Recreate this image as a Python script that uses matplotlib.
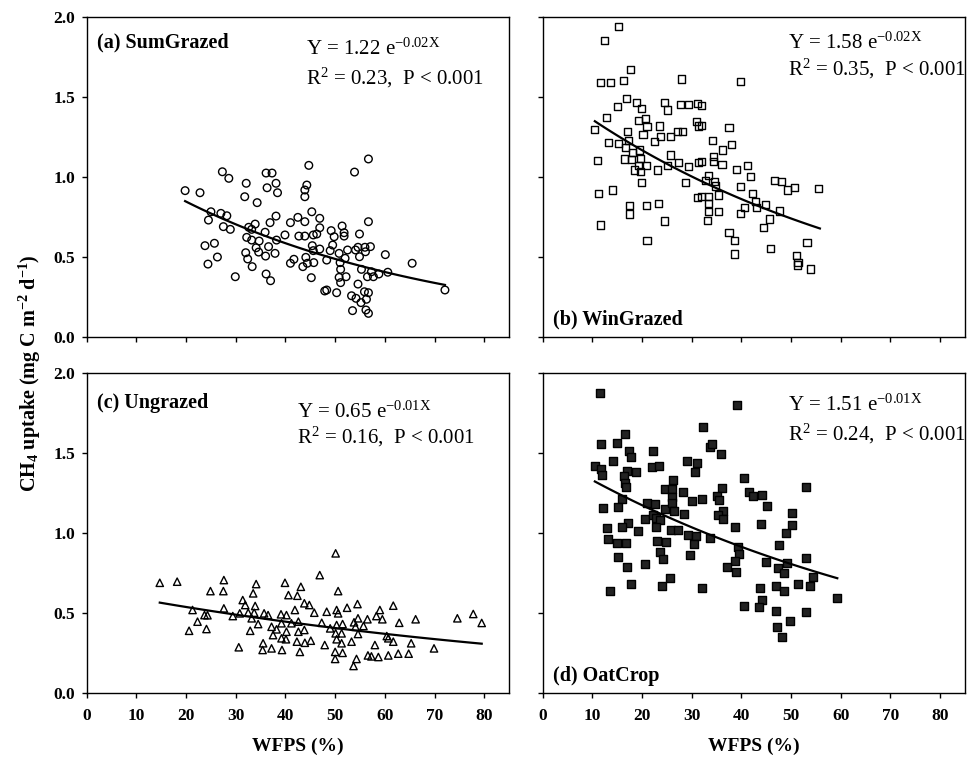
import numpy as np
import matplotlib
matplotlib.use("Agg")
import matplotlib.pyplot as plt

plt.rcParams['font.family'] = ['Liberation Serif', 'DejaVu Serif']
plt.rcParams['mathtext.fontset'] = 'custom'
plt.rcParams['mathtext.rm'] = 'Liberation Serif'
plt.rcParams['mathtext.it'] = 'Liberation Serif:italic'
plt.rcParams['mathtext.bf'] = 'Liberation Serif:bold'

# (a) SumGrazed - WFPS (%) vs CH4 uptake
sum_x = [19.8, 22.8, 27.3, 28.6, 32.1, 31.8, 34.3, 36.1, 37.3, 38.1, 36.3, 38.4, 44.7, 44.3, 43.9, 43.9,
         25.0, 24.5, 27.0, 28.2, 27.5, 28.9, 23.8, 25.7, 26.3, 24.4, 29.9, 32.6, 33.9, 33.2, 32.2, 33.2,
         34.7, 35.9, 36.9, 38.1, 32.0, 32.4, 33.3, 34.1, 34.6, 36.6, 36.0, 37.9, 38.2, 39.9, 36.1, 37.0,
         41.0, 42.5, 43.9, 45.3, 46.9, 42.7, 43.9, 45.6, 46.3, 46.9, 45.4, 45.6, 46.9, 41.0, 41.7, 43.5,
         44.1, 44.4, 45.7, 45.2, 47.9, 48.3,
         56.7, 53.9, 56.7, 49.2, 49.8, 51.4, 51.8, 51.8, 54.9, 49.5, 49.0, 50.8, 52.5, 54.1, 54.6, 56.0,
         57.1, 54.9, 56.1, 52.0, 48.3, 60.1, 65.5, 51.0, 51.1, 55.3, 57.3, 56.5, 57.7, 58.8, 60.6, 50.8,
         52.2, 51.1, 54.6, 50.3, 53.3, 54.2, 55.9, 56.7, 56.3, 55.2, 53.5, 56.2, 56.7, 72.1]
sum_y = [0.913, 0.900, 1.031, 0.990, 0.959, 0.875, 0.838, 1.023, 1.023, 0.959, 0.931, 0.900, 1.071, 0.948, 0.917, 0.875,
         0.781, 0.729, 0.771, 0.756, 0.688, 0.671, 0.569, 0.584, 0.498, 0.454, 0.375, 0.684, 0.704, 0.671, 0.621, 0.604,
         0.598, 0.653, 0.713, 0.754, 0.525, 0.486, 0.438, 0.556, 0.529, 0.563, 0.504, 0.521, 0.604, 0.636, 0.392, 0.350,
         0.713, 0.746, 0.719, 0.781, 0.740, 0.629, 0.629, 0.636, 0.642, 0.681, 0.569, 0.538, 0.548, 0.459, 0.484, 0.438,
         0.496, 0.459, 0.463, 0.369, 0.286, 0.292,
         1.111, 1.029, 0.719, 0.663, 0.625, 0.692, 0.650, 0.629, 0.642, 0.573, 0.538, 0.521, 0.542, 0.542, 0.559, 0.559,
         0.563, 0.500, 0.531, 0.490, 0.479, 0.513, 0.459, 0.463, 0.421, 0.421, 0.406, 0.375, 0.375, 0.392, 0.403, 0.371,
         0.375, 0.338, 0.329, 0.275, 0.256, 0.240, 0.281, 0.275, 0.234, 0.213, 0.163, 0.167, 0.146, 0.292]

# (b) WinGrazed
win_x = [15.2, 12.4, 17.7, 11.6, 13.7, 16.3, 28.0, 16.8, 15.1, 18.9, 19.9, 24.5, 25.2, 27.8, 29.3, 31.1,
         12.8, 10.5, 19.2, 20.7, 21.0, 20.2, 23.6, 23.7, 22.5, 25.8, 27.2, 28.2, 31.0, 31.3, 17.1, 13.2,
         15.2, 17.2, 16.7, 18.0, 19.4, 16.4, 17.8, 19.6, 20.9, 19.2, 18.4, 19.7, 19.8, 11.1, 23.2, 25.2,
         25.8, 27.4, 29.4, 31.4, 28.8, 11.3, 14.0, 31.2, 17.4, 17.4, 20.9, 23.4, 11.7, 24.5, 21.0,
         39.8, 32.0, 31.9, 37.5, 34.2, 36.2, 38.0, 34.3, 36.1, 34.3, 31.9, 39.0, 41.2, 41.9, 33.3, 32.7,
         34.5, 34.7, 39.9, 35.3, 33.3, 31.9, 33.3, 33.3, 35.3, 33.1, 42.3, 42.9, 43.1, 44.9, 40.6, 39.8,
         45.6, 44.4, 47.7, 46.7, 48.1, 49.2, 50.6, 55.5, 37.5, 38.6, 38.6, 45.9, 53.2, 51.1, 51.4, 51.2, 54.0]
win_y = [1.938, 1.850, 1.673, 1.590, 1.590, 1.600, 1.611, 1.490, 1.438, 1.463, 1.428, 1.465, 1.417, 1.454, 1.454, 1.459,
         1.369, 1.296, 1.354, 1.365, 1.313, 1.265, 1.317, 1.250, 1.223, 1.250, 1.281, 1.281, 1.344, 1.317, 1.281, 1.213,
         1.209, 1.229, 1.181, 1.153, 1.167, 1.111, 1.109, 1.115, 1.073, 1.069, 1.042, 1.031, 0.963, 1.100, 1.042, 1.073,
         1.136, 1.088, 1.063, 1.088, 0.965, 0.896, 0.917, 0.869, 0.819, 0.767, 0.819, 0.834, 0.698, 0.723, 0.604,
         1.594, 1.448, 1.323, 1.306, 1.229, 1.167, 1.204, 1.129, 1.079, 1.094, 1.094, 1.048, 1.073, 1.003, 1.010, 0.975,
         0.969, 0.942, 0.938, 0.886, 0.875, 0.875, 0.834, 0.781, 0.781, 0.725, 0.896, 0.844, 0.806, 0.828, 0.806, 0.771,
         0.736, 0.684, 0.786, 0.979, 0.969, 0.917, 0.934, 0.928, 0.653, 0.604, 0.517, 0.553, 0.588, 0.510, 0.465, 0.448, 0.423]

# (c) Ungrazed
ung_x = [14.7, 18.2, 27.6, 24.9, 27.5, 34.1, 33.5, 39.9, 43.1, 40.6, 42.4, 31.4, 31.9, 33.9, 27.6, 21.3,
         23.7, 24.3, 29.4, 30.8, 32.5, 33.7, 33.2, 35.7, 36.5, 39.1, 40.2, 41.9, 43.8, 44.8, 22.3, 20.6,
         24.1, 34.5, 32.9, 37.2, 38.2, 39.2, 41.2, 42.6, 37.5, 40.2, 42.6, 43.8, 35.5, 39.2, 40.1, 42.3,
         43.9, 30.6, 37.2,
         50.1, 46.9, 50.6, 45.8, 48.3, 50.3, 50.6, 52.4, 54.5, 59.0, 61.7, 54.6, 56.5, 58.3, 59.5, 62.9,
         66.2, 74.6, 77.8, 47.3, 49.0, 50.3, 51.5, 53.8, 54.1, 55.7, 50.1, 51.3, 54.6, 60.4, 60.7, 61.7,
         45.1, 47.9, 50.3, 51.3, 53.3, 58.0, 65.3, 69.9, 79.5,
         35.4, 39.3, 42.9, 50.0, 50.0, 51.5, 53.7, 54.3, 56.6, 57.3, 58.7, 60.7, 62.7, 64.8]
ung_y = [0.691, 0.698, 0.708, 0.639, 0.639, 0.683, 0.625, 0.691, 0.666, 0.614, 0.610, 0.583, 0.552, 0.546, 0.531, 0.521,
         0.489, 0.488, 0.483, 0.500, 0.504, 0.504, 0.469, 0.500, 0.489, 0.494, 0.489, 0.521, 0.563, 0.552, 0.448, 0.391,
         0.402, 0.433, 0.391, 0.416, 0.400, 0.438, 0.438, 0.448, 0.364, 0.385, 0.385, 0.396, 0.313, 0.344, 0.338, 0.323,
         0.316, 0.288, 0.281,
         0.875, 0.739, 0.639, 0.504, 0.510, 0.521, 0.500, 0.535, 0.558, 0.521, 0.548, 0.469, 0.463, 0.483, 0.463, 0.441,
         0.463, 0.469, 0.496, 0.441, 0.406, 0.427, 0.433, 0.444, 0.416, 0.421, 0.375, 0.375, 0.371, 0.358, 0.344, 0.323,
         0.329, 0.302, 0.338, 0.313, 0.323, 0.302, 0.313, 0.281, 0.440,
         0.271, 0.271, 0.259, 0.259, 0.215, 0.253, 0.171, 0.215, 0.237, 0.231, 0.227, 0.237, 0.248, 0.248]

# (d) OatCrop
oat_x = [11.5, 16.6, 14.9, 11.7, 17.4, 17.8, 14.2, 22.3, 10.5, 11.7, 11.9, 16.9, 18.7, 16.4, 16.6, 16.7,
         22.1, 23.4, 29.0, 31.0, 30.6, 26.3, 24.6, 26.1, 26.1, 28.2, 30.1, 32.0, 15.9, 15.2, 12.2, 20.9,
         22.7, 24.6, 26.1, 26.5, 28.4, 20.6, 22.3, 22.9, 23.6, 22.9, 17.1, 16.0, 12.9, 13.2, 19.2, 25.8,
         27.2, 29.2, 30.8, 30.5, 23.1, 24.8, 16.8, 15.0, 23.6, 24.3, 15.2, 17.0, 20.6, 29.6, 25.6, 24.1,
         17.8, 13.5, 32.0,
         39.2, 32.3, 33.7, 34.0, 35.9, 40.5, 36.1, 35.0, 35.5, 41.6, 42.4, 44.1, 45.1, 53.1, 36.2, 35.3,
         36.3, 38.7, 43.9, 50.1, 50.1, 49.0, 33.7, 39.4, 39.5, 38.7, 37.0, 38.9, 44.9, 47.6, 49.1, 47.4,
         48.6, 53.1, 54.4, 53.8, 51.4, 46.9, 48.6, 43.7, 44.2, 43.6, 40.5, 46.9, 53.1, 49.8, 47.2, 48.1, 59.3]
oat_y = [1.875, 1.619, 1.566, 1.558, 1.516, 1.479, 1.454, 1.514, 1.421, 1.400, 1.364, 1.389, 1.385, 1.358, 1.316, 1.288,
         1.413, 1.421, 1.454, 1.438, 1.381, 1.333, 1.277, 1.275, 1.225, 1.260, 1.204, 1.213, 1.213, 1.166, 1.156, 1.188,
         1.183, 1.150, 1.188, 1.141, 1.121, 1.088, 1.114, 1.094, 1.083, 1.042, 1.063, 1.038, 1.031, 0.963, 1.016, 1.021,
         1.021, 0.989, 0.983, 0.933, 0.954, 0.948, 0.941, 0.938, 0.885, 0.838, 0.854, 0.788, 0.808, 0.864, 0.719, 0.671,
         0.681, 0.641, 0.656,
         1.802, 1.666, 1.541, 1.556, 1.496, 1.348, 1.281, 1.233, 1.208, 1.260, 1.233, 1.238, 1.171, 1.288, 1.141, 1.114,
         1.088, 1.038, 1.056, 1.129, 1.052, 1.004, 0.973, 0.913, 0.869, 0.829, 0.791, 0.760, 0.823, 0.927, 0.816, 0.781,
         0.754, 0.844, 0.725, 0.671, 0.683, 0.671, 0.641, 0.660, 0.583, 0.538, 0.546, 0.516, 0.510, 0.454, 0.413, 0.350, 0.596]

# exponential fits Y = a e^(bX), drawn over the data range
fit_a = [1.22, 1.58, 0.65, 1.51]
fit_b = [-0.0184, -0.0152, -0.0093, -0.0125]
fit_lo = [19.8, 10.5, 14.7, 10.5]
fit_hi = [72.1, 55.8, 79.5, 59.3]

panel_names = ['(a) SumGrazed', '(b) WinGrazed', '(c) Ungrazed', '(d) OatCrop']
eq_text = ['Y = 1.22 e$^{\\mathregular{-0.02X}}$', 'Y = 1.58 e$^{\\mathregular{-0.02X}}$',
           'Y = 0.65 e$^{\\mathregular{-0.01X}}$', 'Y = 1.51 e$^{\\mathregular{-0.01X}}$']
r2_text = ['R$^{\\mathregular{2}}$ = 0.23,  P < 0.001', 'R$^{\\mathregular{2}}$ = 0.35,  P < 0.001',
           'R$^{\\mathregular{2}}$ = 0.16,  P < 0.001', 'R$^{\\mathregular{2}}$ = 0.24,  P < 0.001']

xs = [sum_x, win_x, ung_x, oat_x]
ys = [sum_y, win_y, ung_y, oat_y]
markers = ['o', 's', '^', 's']
sizes = [30, 26, 28, 34]
faces = ['none', 'none', 'none', '#222222']

fig = plt.figure(figsize=(9.67, 7.57), dpi=100)
rects = [[0.0897, 0.5552, 0.4367, 0.4227], [0.5612, 0.5552, 0.4367, 0.4227],
         [0.0897, 0.0841, 0.4367, 0.4227], [0.5612, 0.0841, 0.4367, 0.4227]]
name_pos = [(0.024, 0.92), (0.025, 0.055), (0.024, 0.906), (0.025, 0.055)]
eq_pos = [(0.519, 0.897), (0.581, 0.918), (0.498, 0.88), (0.581, 0.90)]
r2_pos = [(0.519, 0.81), (0.581, 0.836), (0.498, 0.80), (0.581, 0.81)]

for i in range(4):
    ax = fig.add_axes(rects[i])
    ax.scatter(xs[i], ys[i], marker=markers[i], s=sizes[i], facecolors=faces[i],
               edgecolors='black', linewidths=1.0, zorder=3)
    xf = np.linspace(fit_lo[i], fit_hi[i], 100)
    ax.plot(xf, fit_a[i] * np.exp(fit_b[i] * xf), color='black', lw=1.6, zorder=4)
    ax.set_xlim(0, 85)
    ax.set_ylim(0, 2.0)
    ax.set_xticks(np.arange(0, 81, 10))
    ax.set_yticks(np.arange(0, 2.01, 0.5))
    ax.set_yticklabels(['%.1f' % v for v in np.arange(0, 2.01, 0.5)])
    ax.tick_params(direction='out', length=3.5, width=1.0, labelsize=12.5)
    ax.tick_params(axis='x', pad=7)
    ax.tick_params(axis='y', pad=5)
    for lab in ax.get_xticklabels() + ax.get_yticklabels():
        lab.set_fontweight('bold')
    for sp in ax.spines.values():
        sp.set_linewidth(1.0)
    if i < 2:
        ax.tick_params(labelbottom=False)
    if i % 2 == 1:
        ax.tick_params(labelleft=False)
    ax.text(name_pos[i][0], name_pos[i][1], panel_names[i], transform=ax.transAxes,
            fontsize=14.5, fontweight='bold', va='center', ha='left')
    ax.text(eq_pos[i][0], eq_pos[i][1], eq_text[i], transform=ax.transAxes,
            fontsize=15, va='center', ha='left')
    ax.text(r2_pos[i][0], r2_pos[i][1], r2_text[i], transform=ax.transAxes,
            fontsize=15, va='center', ha='left')
    if i >= 2:
        ax.set_xlabel('WFPS (%)', fontsize=14, fontweight='bold', labelpad=10)

fig.text(0.031, 0.507, 'CH$_\\mathbf{4}$ uptake (mg C m$^{\\mathbf{-2}}$ d$^{\\mathbf{-1}}$)',
         rotation=90, fontsize=14.5, fontweight='bold', ha='center', va='center')

fig.savefig('out.png', dpi=100)
